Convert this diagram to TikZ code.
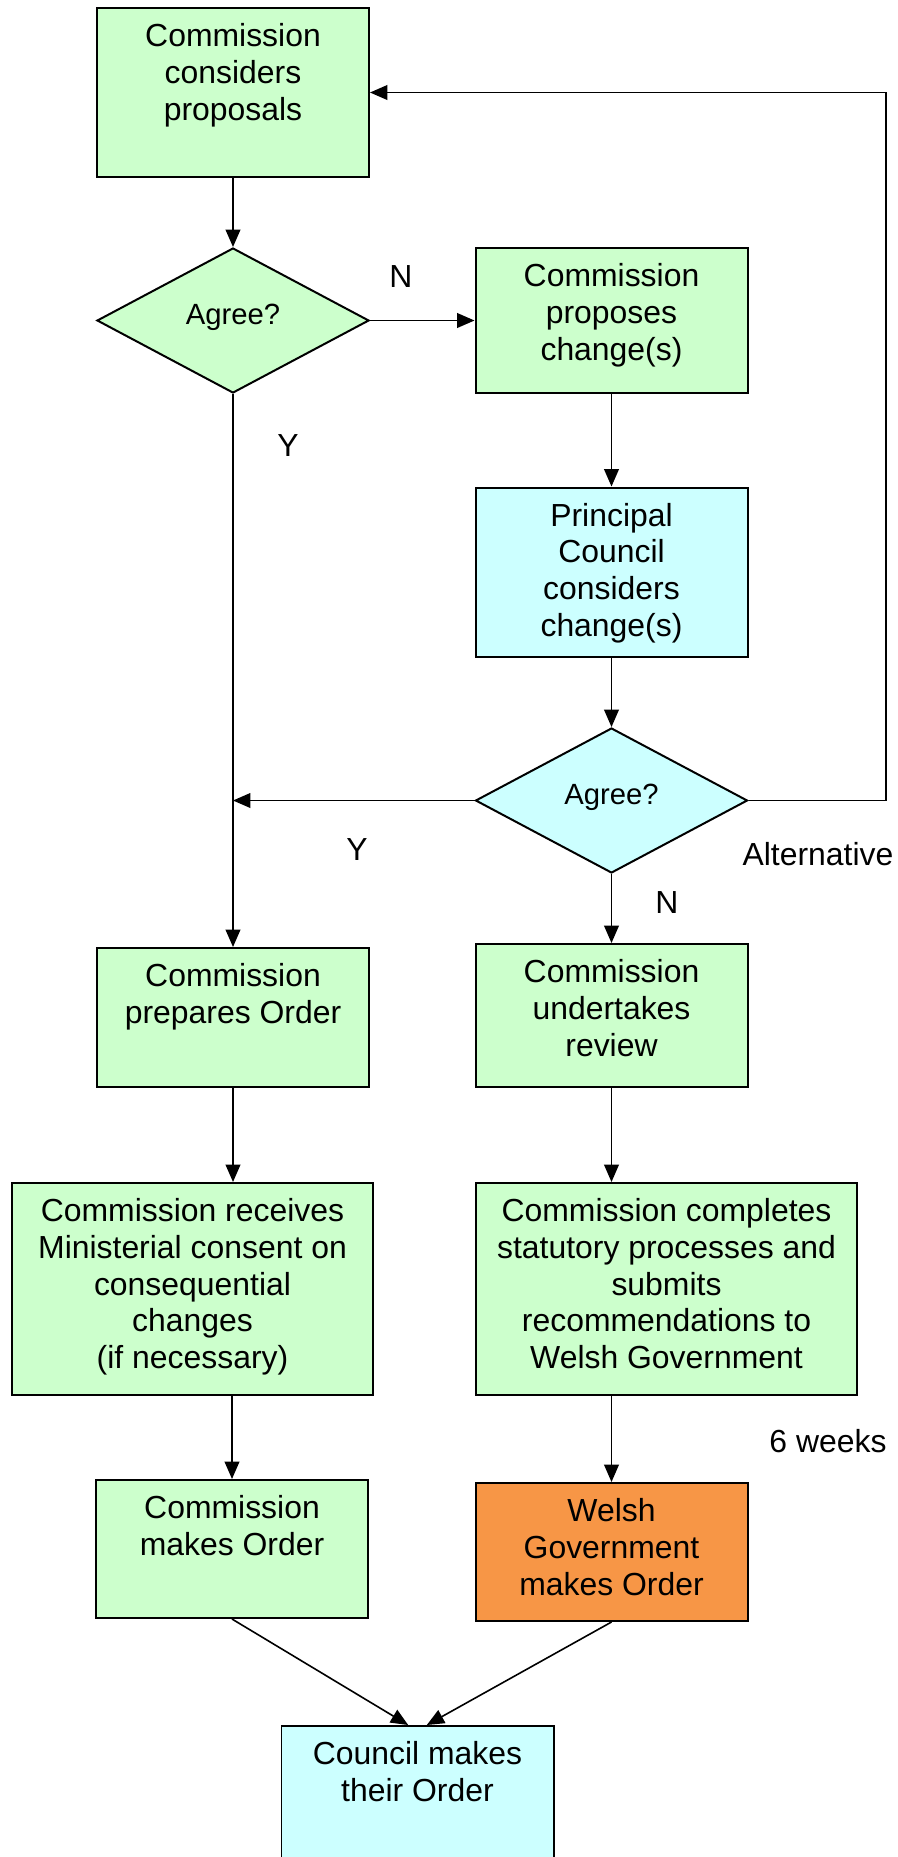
\documentclass[tikz,border=0pt]{standalone}
\usepackage{fontspec}
\setmainfont{Liberation Sans}
\usepackage{tikz}
\usetikzlibrary{shapes.geometric, arrows.meta}
\newcommand{\pxl}{0.376pt}
\definecolor{lgreen}{HTML}{CCFFCC}
\definecolor{lcyan}{HTML}{CCFFFF}
\definecolor{lorange}{HTML}{F79646}

\begin{document}
\begin{tikzpicture}[x=\pxl, y=-\pxl, main/.style={draw, rectangle, line width=0.75pt, minimum width=272*\pxl, inner sep=0pt}, txt/.style={anchor=north, align=center, inner sep=6pt, font=\fontsize{12}{13.8}\selectfont}, dec/.style={draw, diamond, line width=0.75pt, inner sep=0pt, minimum width=272*\pxl, minimum height=145*\pxl, text depth=5pt, font=\fontsize{11}{13}\selectfont}, info/.style={font=\fontsize{12}{13.8}\selectfont}, n/.style={-{Triangle[length=6.5pt, width=5.5pt]}, line width=0.6pt}]
            \useasboundingbox (0,0) rectangle (897,1857);
            % nodes
            \node[main, fill=lgreen, minimum height=169*\pxl, label={[txt]north:{Commission\\considers\\proposals}}] (C1) at (233,92.5) {};
            \node[dec, fill=lgreen] (A1) at (233,320.5) {Agree?};
            \node[main, fill=lgreen, minimum height=145*\pxl, label={[txt]north:{Commission\\proposes\\change(s)}}] (C2) at (611.5,320.5) {};
            \node[main, fill=lcyan, minimum height=169*\pxl, label={[txt]north:{Principal\\Council\\considers\\change(s)}}] (C3) at (611.5,572) {};
            \node[dec, fill=lcyan] (A2) at (611.5,800.5) {Agree?};
            \node[main, fill=lgreen, minimum height=139*\pxl, label={[txt]north:{Commission\\prepares Order}}] (C4) at (233,1017.5) {};
            \node[main, fill=lgreen, minimum height=143*\pxl, label={[txt]north:{Commission\\undertakes\\review}}] (C5) at (611.5,1015.5) {};
            \node[main, fill=lgreen, minimum width=361*\pxl, minimum height=212*\pxl, label={[txt]north:{Commission receives\\Ministerial consent on\\consequential\\changes\\(if necessary)}}] (C6) at (192.5,1289) {};
            \node[main, fill=lgreen, minimum width=381*\pxl, minimum height=212*\pxl, label={[txt]north:{Commission completes\\statutory processes and\\submits\\recommendations to\\Welsh Government}}] (C7) at (666.5,1289) {};
            \node[main, fill=lgreen, minimum height=138*\pxl, label={[txt]north:{Commission\\makes Order}}] (C8) at (232,1549) {};
            \node[main, fill=lorange, minimum height=138*\pxl, label={[txt]north:{Welsh\\Government\\makes Order}}] (C9) at (611.5,1552) {};
            \node[main, fill=lcyan, minimum height=200*\pxl, label={[txt]north:{Council makes\\their Order}}] (C10) at (417.5,1826) {};
            \coordinate (R) at (886,450);
            % labels
            \node[info] (N1) at (401,277) {N};
            \node[info] (Y1) at (288,446) {Y};
            \node[info] (Y2) at (357,850) {Y};
            \node[info] (N2) at (667,903) {N};
            \node[info] (Alt) at (818,854) {Alternative};
            \node[info] (Wk) at (828,1441) {6 weeks};
            % edges
            \draw[n] (C1.south) -- (A1.north);
            \draw[n] (A1.east) -- (C2.west);
            \draw[n] (C2.south) -- (C3.north);
            \draw[n] (C3.south) -- (A2.north);
            \draw[n] (A2.west) -- (A2.west -| A1.south);
            \draw[n] (A2.east) -| (R) |- (C1.east);
            \draw[n] (A1.south) -- (C4.north);
            \draw[n] (A2.south) -- (C5.north);
            \draw[n] (C4.south) -- (C4.south |- C6.north);
            \draw[n] (C5.south) -- (C5.south |- C7.north);
            \draw[n] (C8.north |- C6.south) -- (C8.north);
            \draw[n] (C9.north |- C7.south) -- (C9.north);
            \draw[n] (C8.south) -- ([xshift=-3.5pt]C10.north);
            \draw[n] (C9.south) -- ([xshift=3.5pt]C10.north);
        \end{tikzpicture}
\end{document}
